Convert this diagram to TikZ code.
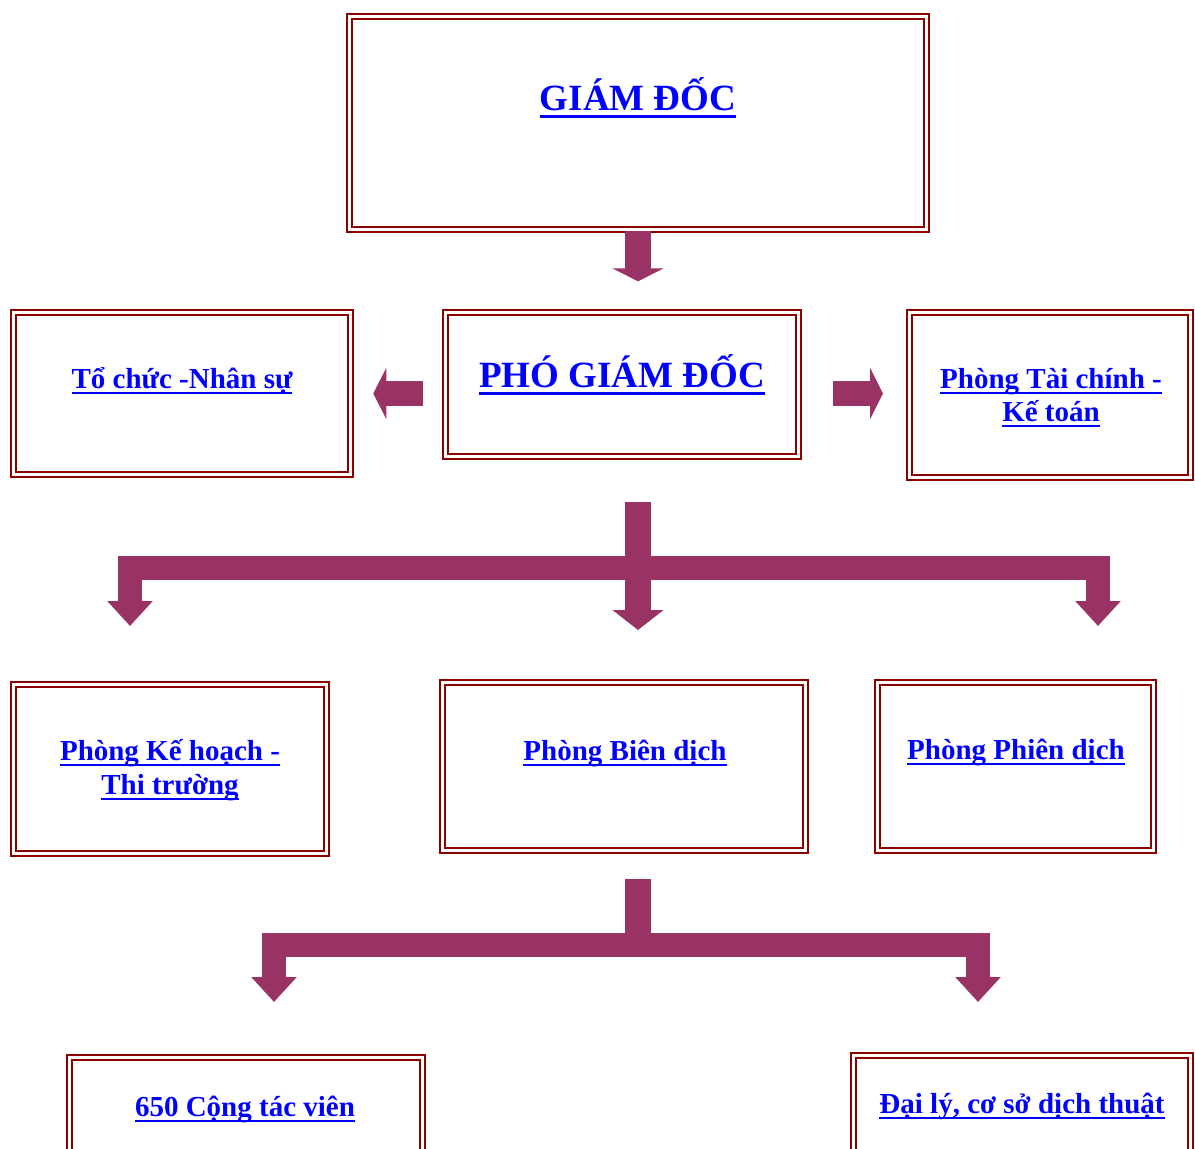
\documentclass[tikz,border=0pt]{standalone}
\usepackage{fontspec}
\setmainfont{Liberation Serif}
\usetikzlibrary{arrows.meta,calc}

\definecolor{boxred}{RGB}{140,0,0}
\definecolor{plum}{RGB}{153,51,102}
\definecolor{linkblue}{RGB}{0,0,255}

\newcommand\ulbox[1]{\setbox0=\hbox{#1}\rlap{\rule[-0.22em]{\wd0}{0.09em}}\box0}

\begin{document}
\begin{tikzpicture}[
  x=1pt, y=-1pt,
  dbox/.style={draw=boxred, line width=2.4pt, double=white, double distance=2.2pt, inner sep=0pt},
  big/.style={text=linkblue, font=\fontsize{37}{44}\selectfont\bfseries, inner sep=0pt, anchor=base},
  small/.style={text=linkblue, font=\fontsize{29}{34}\selectfont\bfseries, inner sep=0pt, anchor=base},
  fat/.style={draw=plum, line width=25pt, -{Triangle[width=51pt,length=13pt]}},
  bent/.style={draw=plum, line width=24pt, -{Triangle[width=44pt,length=25pt]}},
]
\useasboundingbox (0,0) rectangle (1195,1149);
\clip (0,0) rectangle (1195,1149);

\node[dbox, minimum width=577pt, minimum height=213pt] (gd)   at (638,123)    {};
\node[dbox, minimum width=353pt, minimum height=144pt] (pgd)  at (622,384.5)  {};
\node[dbox, minimum width=337pt, minimum height=162pt] (tc)   at (182,393.5)  {};
\node[dbox, minimum width=281pt, minimum height=165pt] (tckt) at (1050,395)   {};
\node[dbox, minimum width=313pt, minimum height=169pt] (khtt) at (170,769)    {};
\node[dbox, minimum width=363pt, minimum height=168pt] (bd)   at (624,766.5)  {};
\node[dbox, minimum width=276pt, minimum height=168pt] (pd)   at (1015.5,766.5) {};
\node[dbox, minimum width=353pt, minimum height=163pt] (ctv)  at (246,1139)   {};
\node[dbox, minimum width=337pt, minimum height=163pt] (dl)   at (1022,1137)  {};

\node[big]   (gdt)   at (638,110)  {\ulbox{GIÁM ĐỐC}};
\node[big]   (pgdt)  at (622,387)  {\ulbox{PHÓ GIÁM ĐỐC}};
\node[small] (tct)   at (182,388)  {\ulbox{Tổ chức -Nhân sự}};
\node[small] (tckta) at (1051,388) {\ulbox{Phòng Tài chính -}};
\node[small] (tcktb) at (1051,421) {\ulbox{Kế toán}};
\node[small] (khtta) at (170,760)  {\ulbox{Phòng Kế hoạch -}};
\node[small] (khttb) at (170,794)  {\ulbox{Thi trường}};
\node[small] (bdt)   at (625,760)  {\ulbox{Phòng Biên dịch}};
\node[small] (pdt)   at (1016,759) {\ulbox{Phòng Phiên dịch}};
\node[small] (ctvt)  at (245,1116) {\ulbox{650 Cộng tác viên}};
\node[small] (dlt)   at (1022,1113) {\ulbox{Đại lý, cơ sở dịch thuật}};

\draw[fat, line width=26pt, shorten >=30pt] (gd.south -| gdt) -- (gdt |- pgd.north);
\draw[fat, shorten <=21.6pt, shorten >=21.6pt] (tc.east -| pgd.west) -- (tc.east);
\draw[fat, shorten <=33.3pt, shorten >=25.3pt] (pgd.east |- tc.east) -- (tckt.west |- tc.east);

\coordinate (j1) at (638,568);
\coordinate (l1) at (130,626);
\coordinate (r1) at (1098,626);
\draw[fat, line width=26pt, -{Triangle[width=50pt,length=20pt]}, shorten <=44.3pt, shorten >=51.3pt]
  (j1 |- pgd.south) -- (j1 |- bd.north);
\draw[bent] (j1) -| (l1);
\draw[bent] (j1) -| (r1);

\coordinate (j2) at (638,945);
\coordinate (l2) at (274,1002);
\coordinate (r2) at (978,1002);
\draw[draw=plum, line width=26pt, shorten <=27.3pt] (j2 |- bd.south) -- (j2);
\draw[bent] (j2) -| (l2);
\draw[bent] (j2) -| (r2);
\end{tikzpicture}
\end{document}
